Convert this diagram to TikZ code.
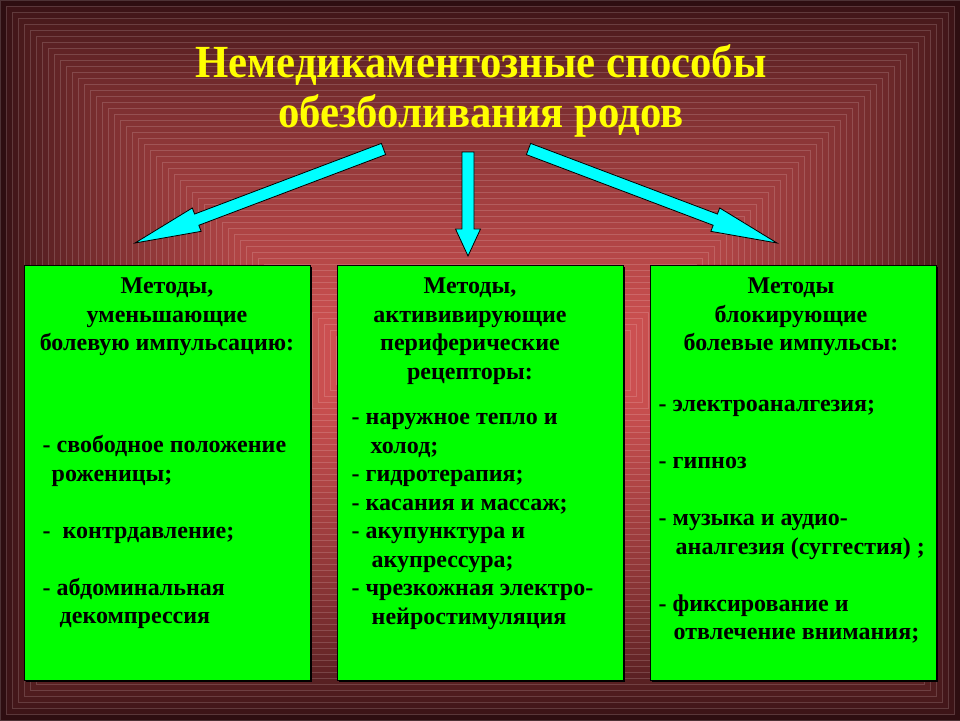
\documentclass[tikz,border=0pt]{standalone}
\usepackage{fontspec}
\setmainfont{Liberation Serif}
\newfontfamily\titlefont[FakeStretch=0.93]{Liberation Serif}
\usetikzlibrary{positioning,calc,shadows}

\definecolor{bgout}{RGB}{46,14,17}
\definecolor{bgin}{RGB}{212,84,84}
\definecolor{methodgreen}{RGB}{0,255,0}
\definecolor{titleyellow}{RGB}{255,255,0}
\definecolor{arrowcyan}{RGB}{0,255,255}

\newcommand\bodyfont{\fontsize{24}{28.5}\selectfont\bfseries}

\tikzset{
  title/.style={font=\titlefont\fontsize{46}{50}\selectfont\bfseries, text=titleyellow, align=center, inner sep=0pt},
  method/.style={draw=black, line width=1pt, fill=methodgreen, minimum width=286pt, minimum height=415pt, inner sep=0pt,
    drop shadow={shadow xshift=2pt, shadow yshift=-2pt, fill=black, opacity=1}},
  heading/.style={font=\bodyfont, align=center, inner sep=0pt},
  items/.style={font=\bodyfont, align=left, inner sep=0pt},
  fatarrow/.style={fill=arrowcyan, draw=black, line width=0.8pt, line join=miter},
}

% #1 head length, #2 tail, #3 tip
\newcommand\fatarrow[3][66]{%
  \coordinate (hb) at ($(#3)!#1pt!(#2)$);
  \filldraw[fatarrow] ($(#2)!6pt!90:(#3)$) -- ($(hb)!6pt!90:(#3)$) -- ($(hb)!12.5pt!90:(#3)$)
    -- (#3) -- ($(hb)!12.5pt!-90:(#3)$) -- ($(hb)!6pt!-90:(#3)$) -- ($(#2)!6pt!-90:(#3)$) -- cycle;
}

\begin{document}
\begin{tikzpicture}[x=1pt, y=-1pt]

  \useasboundingbox (0,0) rectangle (960,720);
  \foreach \i in {0,...,59}{
    \pgfmathsetmacro\p{100*(\i/59)^0.6}
    \colorlet{frame}{bgin!\p!bgout}
    \filldraw[fill=frame, draw=frame!85!white, line width=0.4pt] (6*\i,6*\i) rectangle (960-6*\i,720-6*\i);
  }

  \node[title, anchor=north] (title) at (481,42) {\strut Немедикаментозные способы\\обезболивания родов};

  \node[method] (mid) at (480,472.5) {};
  \node[method] (lft) [left=26pt of mid] {};
  \node[method] (rgt) [right=26pt of mid] {};

  \node[heading] (lft-h) [below=9pt of lft.north] {\strut Методы,\\уменьшающие\\болевую импульсацию:};
  \node[heading] (mid-h) [below=9pt of mid.north, xshift=-10pt] {\strut Методы,\\актививирующие\\периферические\\рецепторы:};
  \node[heading] (rgt-h) [below=9pt of rgt.north, xshift=-2pt] {\strut Методы\\блокирующие\\болевые импульсы:};

  \node[items] (lft-i) [below right=168pt and 19pt of lft.north west]
    {\strut- свободное положение\\\hspace*{9pt}роженицы;\\[28.5pt]-\ \ контрдавление;\\[28.5pt]- абдоминальная\\\hspace*{17pt}декомпрессия};
  \node[items] (mid-i) [below right=140pt and 15pt of mid.north west]
    {\strut- наружное тепло и\\\hspace*{19pt}холод;\\- гидротерапия;\\- касания и массаж;\\- акупунктура и\\\hspace*{20pt}акупрессура;\\- чрезкожная электро-\\\hspace*{20pt}нейростимуляция};
  \node[items] (rgt-i) [below right=127pt and 9pt of rgt.north west]
    {\strut- электроаналгезия;\\[28.5pt]- гипноз\\[28.5pt]- музыка и аудио-\\\hspace*{17pt}аналгезия (суггестия) ;\\[28.5pt]- фиксирование и\\\hspace*{15pt}отвлечение внимания;};

  \coordinate (l-tail) at (383.5,149);
  \coordinate (l-tip) at (135,243);
  \coordinate (m-tail) at (468,152);
  \coordinate (m-tip) at (468,256);
  \coordinate (r-tail) at (528.5,149);
  \coordinate (r-tip) at (777,243);

  \fatarrow{l-tail}{l-tip}
  \fatarrow[27]{m-tail}{m-tip}
  \fatarrow{r-tail}{r-tip}

\end{tikzpicture}
\end{document}
